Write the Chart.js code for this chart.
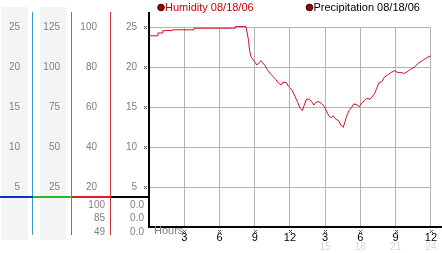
<!DOCTYPE html>
<html>
<head>
<meta charset="utf-8">
<script src="https://cdn.jsdelivr.net/npm/chart.js@4.4.0/dist/chart.umd.min.js"></script>
<style>
  html, body { margin: 0; padding: 0; background: #fff; }
  #wrap { width: 442px; height: 253px; }
</style>
</head>
<body>
<div id="wrap"><canvas id="chart" width="442" height="253"></canvas></div>
<script>
// readings (hours since midnight)
const hours = [0, 0.75, 0.76, 1.17, 1.18, 2.0, 2.01, 3.83, 3.84, 7.33, 7.34, 8.25,
  8.47, 8.56, 8.69, 8.83, 9.06, 9.17, 9.33, 9.53, 9.67, 9.89,
  10.08, 10.36, 10.64, 10.78, 11.06, 11.28, 11.39, 11.69, 11.89,
  12.17, 12.44, 12.67, 12.86, 13.06, 13.22, 13.42, 13.64, 13.83,
  14.04, 14.25, 14.47, 14.67, 14.94, 15.14, 15.31, 15.5, 15.69, 15.92,
  16.14, 16.33, 16.53, 16.69, 16.81, 17.03, 17.25, 17.44, 17.72, 17.92,
  18.14, 18.36, 18.56, 18.83, 19.11, 19.25, 19.39, 19.58, 19.81,
  20.03, 20.31, 20.58, 20.92, 21.19, 21.47, 21.75, 21.97,
  22.25, 22.58, 22.86, 23.28, 23.69, 24.0];
const humidity = [23.9, 23.9, 24.25, 24.25, 24.55, 24.55, 24.65, 24.65, 24.85, 24.85, 25.05, 25.05,
  23.4, 22.1, 21.3, 20.95, 20.55, 20.25, 20.45, 20.8, 20.55, 20.15,
  19.65, 19.1, 18.7, 18.45, 17.95, 17.75, 18.1, 18.05, 17.55,
  17.15, 16.3, 15.55, 14.85, 14.55, 15.25, 16.0, 15.95, 15.7,
  15.25, 15.65, 15.65, 15.45, 15.05, 14.4, 13.9, 13.65, 13.9, 13.45,
  13.3, 12.75, 12.45, 13.15, 13.8, 14.55, 14.95, 15.4, 15.25, 15.05,
  15.55, 15.8, 16.1, 15.95, 16.5, 16.8, 17.35, 18.05, 18.15,
  18.7, 19.0, 19.3, 19.55, 19.3, 19.3, 19.2, 19.4,
  19.7, 19.95, 20.4, 20.8, 21.2, 21.4];
const precipitation = [];

const seriesLabels = ['Humidity 08/18/06', 'Precipitation 08/18/06'];
const xTicks = [3, 6, 9, 12, 15, 18, 21, 24];
const clockLabels = ['3', '6', '9', '12', '3', '6', '9', '12'];
const dayLabels = ['', '', '', '', '15', '18', '21', '24'];
const humiditySummary = ['100', '85', '49'];
const precipSummary = ['0.0', '0.0', '0.0'];

const FONT = 'Liberation Sans';
const GRID = '#b4b4b4';
const LABEL = '#808080';

function xLabel(list) {
  return v => {
    const i = xTicks.indexOf(v);
    return i < 0 ? '' : list[i];
  };
}

function leftAxis(max, step, weight, width, pad) {
  return {
    position: 'left', min: 0, max: max, weight: weight,
    ticks: { stepSize: step, padding: pad, color: LABEL, font: { family: FONT, size: 10 },
      callback: v => v === 0 ? '' : v },
    grid: { display: false, drawTicks: false },
    border: { display: false },
    afterFit: s => { s.width = width; }
  };
}

function mark(ctx, cx, cy) {
  ctx.fillStyle = '#555';
  [[-1, -1], [1, -1], [0, 0], [-1, 1], [1, 1]].forEach(p => ctx.fillRect(cx + p[0], cy + p[1], 1, 1));
}

// panels, dividers, markers, legend and summaries
const decor = {
  id: 'decor',
  beforeDraw(chart) {
    const ctx = chart.ctx;
    const s = chart.scales;
    ctx.save();
    ctx.fillStyle = '#f4f4f4';
    ctx.fillRect(s.yA.left + 1, 7, 27, 233);
    ctx.fillRect(s.yB.left + 7, 7, 26, 233);
    ctx.restore();
  },
  afterDraw(chart) {
    const ctx = chart.ctx;
    const s = chart.scales;
    const area = chart.chartArea;
    ctx.save();

    // column lines
    const cols = [['yA', '#3b9ccc', '#1030cc'], ['yB', '#30aa30', '#22bb22'], ['yC', '#c83232', '#dd1f1f']];
    const divY = area.bottom - 30;
    cols.forEach(c => {
      const sc = s[c[0]];
      ctx.fillStyle = c[1];
      ctx.fillRect(Math.round(sc.right) - 1, 12, 1, 223);
      ctx.fillStyle = c[2];
      ctx.fillRect(sc.left, divY - 1, sc.right - sc.left, 2);
    });
    ctx.fillStyle = '#000';
    ctx.fillRect(s.y.left, divY - 1, s.y.right - s.y.left, 2);
    ctx.fillRect(area.left - 1, 12, 2, area.top - 12);
    ctx.fillRect(area.right, area.bottom - 1, chart.width - area.right, 2);

    // tick markers
    [5, 10, 15, 20, 25].forEach(v => mark(ctx, area.left - 4, Math.round(s.y.getPixelForValue(v))));
    xTicks.forEach(v => mark(ctx, Math.round(s.x.getPixelForValue(v)), area.bottom + 4));

    ctx.font = '11px ' + FONT;
    ctx.textBaseline = 'middle';
    ctx.fillStyle = LABEL;
    ctx.textAlign = 'left';
    ctx.fillText('Hours', area.left + 5, area.bottom + 4);

    // legend
    const legendX = [12, 160.5];
    const legendColors = ['#cc0000', '#000000'];
    chart.data.datasets.forEach((ds, i) => {
      const x0 = area.left + legendX[i];
      ctx.beginPath();
      ctx.arc(x0, 7.5, 3.3, 0, Math.PI * 2);
      ctx.fillStyle = '#a00000';
      ctx.fill();
      ctx.strokeStyle = '#300';
      ctx.lineWidth = 1;
      ctx.stroke();
      ctx.fillStyle = legendColors[i];
      ctx.textAlign = 'left';
      ctx.fillText(ds.label, x0 + 4, 8);
    });

    // summary values under the divider
    ctx.font = '10px ' + FONT;
    ctx.fillStyle = LABEL;
    ctx.textAlign = 'right';
    [8, 21, 35].forEach((dy, i) => {
      ctx.fillText(humiditySummary[i], s.yC.right - 6, divY + dy);
      ctx.fillText(precipSummary[i], s.y.right - 5, divY + dy);
    });
    ctx.restore();
  }
};

new Chart(document.getElementById('chart'), {
  type: 'line',
  data: {
    datasets: [
      {
        label: seriesLabels[0],
        data: hours.map((h, i) => ({ x: h, y: humidity[i] })),
        borderColor: '#cc1020',
        borderWidth: 1,
        pointRadius: 0,
        tension: 0,
        clip: { left: 0, top: 4, right: 0, bottom: 0 },
        xAxisID: 'x',
        yAxisID: 'y'
      },
      {
        label: seriesLabels[1],
        data: precipitation,
        borderColor: '#990000',
        borderWidth: 1,
        pointRadius: 0,
        xAxisID: 'x',
        yAxisID: 'y'
      }
    ]
  },
  options: {
    responsive: false,
    animation: false,
    devicePixelRatio: 1,
    layout: { padding: { top: 27, right: 5, bottom: 0, left: 0 } },
    plugins: { legend: { display: false }, tooltip: { enabled: false } },
    scales: {
      x: {
        type: 'linear', position: 'bottom', min: 0, max: 24, weight: 0,
        ticks: { stepSize: 3, autoSkip: false, maxRotation: 0, padding: 5, color: '#000',
          font: { family: FONT, size: 11, lineHeight: 1 }, callback: xLabel(clockLabels) },
        grid: { color: c => c.tick && c.tick.value === 0 ? 'rgba(0,0,0,0)' : GRID, drawTicks: false },
        border: { color: '#000', width: 2 },
        afterFit: s => { s.height = 15; }
      },
      x2: {
        type: 'linear', position: 'bottom', min: 0, max: 24, weight: 1,
        ticks: { stepSize: 3, autoSkip: false, maxRotation: 0, padding: 0, color: '#d6d6d6',
          font: { family: FONT, size: 10, lineHeight: 1 }, callback: xLabel(dayLabels) },
        grid: { display: false, drawTicks: false },
        border: { display: false },
        afterFit: s => { s.height = 11; }
      },
      y: {
        position: 'left', min: 0, max: 25, weight: 0,
        ticks: { stepSize: 5, padding: 12, color: LABEL, font: { family: FONT, size: 10 },
          callback: v => v === 0 ? '' : v },
        grid: { color: c => c.tick && c.tick.value === 0 ? 'rgba(0,0,0,0)' : GRID, drawTicks: false },
        border: { color: '#000', width: 2 },
        afterFit: s => { s.width = 38; }
      },
      yC: leftAxis(100, 20, 1, 39, 14),
      yB: leftAxis(125, 25, 2, 39, 12),
      yA: leftAxis(25, 5, 3, 33, 13)
    }
  },
  plugins: [decor]
});
</script>
</body>
</html>
